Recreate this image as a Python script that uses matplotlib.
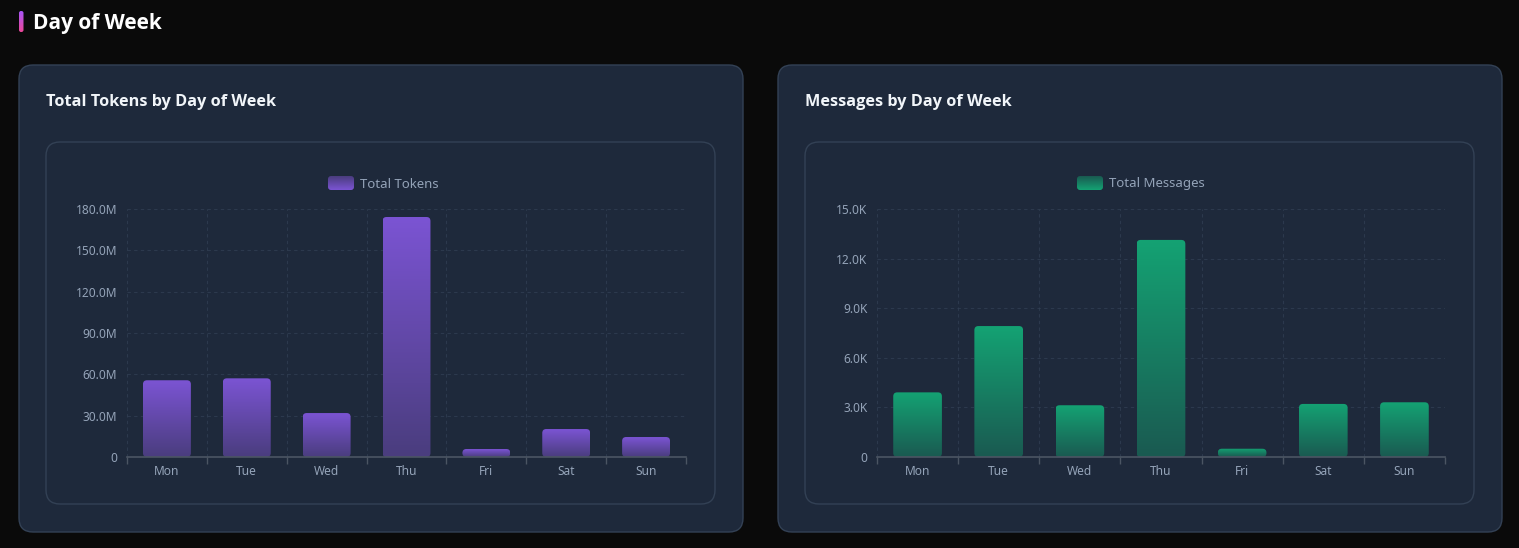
import matplotlib
matplotlib.use('Agg')
import matplotlib.pyplot as plt
import numpy as np
from matplotlib.patches import FancyBboxPatch
from matplotlib.colors import LinearSegmentedColormap
from matplotlib.ticker import FuncFormatter, MultipleLocator

plt.rcParams['font.family'] = ['Noto Sans', 'DejaVu Sans']
bold_font = ['Open Sans', 'DejaVu Sans']

# data
days = ['Mon', 'Tue', 'Wed', 'Thu', 'Fri', 'Sat', 'Sun']
tokens = [55.7e6, 57.1e6, 31.9e6, 174.2e6, 5.8e6, 20.3e6, 14.5e6]
messages = [3910, 7920, 3130, 13130, 500, 3210, 3310]

W, H = 1519, 548
fig = plt.figure(figsize=(W / 100, H / 100), dpi=100)
fig.patch.set_facecolor('#0a0a0a')

# background layer in pixel coordinates
bg = fig.add_axes([0, 0, 1, 1])
bg.set_xlim(0, W)
bg.set_ylim(H, 0)
bg.axis('off')
bg.set_zorder(0)

card_fill = '#1e293b'
card_edge = '#334155'
label_col = '#94a3b8'


def rbox(x0, y0, x1, y1, r, fc, ec, lw=1.0, z=1):
    p = FancyBboxPatch((x0, y0), x1 - x0, y1 - y0,
                       boxstyle=f'round,pad=0,rounding_size={r}',
                       fc=fc, ec=ec, lw=lw, zorder=z)
    bg.add_patch(p)
    return p


# heading with accent bar
accent = LinearSegmentedColormap.from_list('acc', ['#a855f7', '#ec4899'])
acc_patch = rbox(19, 11, 23.5, 32, 2, 'none', 'none', z=2)
bg.imshow(np.linspace(0, 1, 50).reshape(-1, 1), cmap=accent, aspect='auto',
          extent=[19, 23.5, 32, 11], clip_path=acc_patch, zorder=2)
bg.text(33, 23, 'Day of Week', color='white', fontsize=15, fontweight='bold',
        family=bold_font, ha='left', va='center')

purple = LinearSegmentedColormap.from_list('pur', ['#4a3d7e', '#7b54d3'])
green = LinearSegmentedColormap.from_list('grn', ['#1a5a51', '#14a273'])

panels = [
    dict(x0=19, x1=743, title='Total Tokens by Day of Week', vals=tokens,
         cmap=purple, legend='Total Tokens', ymax=180e6, step=30e6,
         fmt=lambda v, p: '0' if v == 0 else f'{v / 1e6:.1f}M',
         ax_l=127, ax_r=686, sw=328),
    dict(x0=778, x1=1502, title='Messages by Day of Week', vals=messages,
         cmap=green, legend='Total Messages', ymax=15e3, step=3e3,
         fmt=lambda v, p: '0' if v == 0 else f'{v / 1e3:.1f}K',
         ax_l=877, ax_r=1445, sw=1077),
]

ax_top, ax_bot = 209, 457

for pn in panels:
    x0, x1 = pn['x0'], pn['x1']
    rbox(x0, 65, x1, 532, 14, card_fill, card_edge, lw=1.0)
    rbox(x0 + 27, 142, x1 - 28, 504, 14, card_fill, card_edge, lw=1.0)
    bg.text(x0 + 27, 102, pn['title'], color='#f1f5f9', fontsize=11.7,
            fontweight='bold', family=bold_font, ha='left', va='center')

    # legend
    sw = pn['sw']
    sp = rbox(sw, 176, sw + 26, 190, 3, 'none', 'none', z=3)
    bg.imshow(np.linspace(0, 1, 50).reshape(-1, 1), cmap=pn['cmap'], aspect='auto',
              extent=[sw, sw + 26, 190, 176], clip_path=sp, zorder=3)
    bg.text(sw + 32, 184, pn['legend'], color=label_col, fontsize=9.5,
            ha='left', va='center')

    ax = fig.add_axes([pn['ax_l'] / W, 1 - ax_bot / H,
                       (pn['ax_r'] - pn['ax_l']) / W, (ax_bot - ax_top) / H])
    ax.set_zorder(1)
    ax.patch.set_alpha(0)
    x = np.arange(len(days))
    bars = ax.bar(x, pn['vals'], width=0.6)
    ax.set_xlim(-0.5, len(days) - 0.5)
    ax.set_ylim(0, pn['ymax'])

    # pixel -> data scale for rounded tops
    xpp = len(days) / (pn['ax_r'] - pn['ax_l'])
    ypp = pn['ymax'] / (ax_bot - ax_top)
    grad = np.linspace(0, 1, 100).reshape(-1, 1)
    for b in bars:
        b.set_visible(False)
        bx, bw, bh = b.get_x(), b.get_width(), b.get_height()
        clip = FancyBboxPatch((bx, 0), bw, bh,
                              boxstyle=f'round,pad=0,rounding_size={4 * xpp}',
                              mutation_aspect=ypp / xpp, fc='none', ec='none',
                              transform=ax.transData)
        ax.add_patch(clip)
        ax.imshow(grad, cmap=pn['cmap'], aspect='auto', origin='lower',
                  extent=[bx, bx + bw, 0, bh], clip_path=clip, zorder=2)
    ax.set_xlim(-0.5, len(days) - 0.5)
    ax.set_ylim(0, pn['ymax'])
    ax.set_aspect('auto')

    ax.yaxis.set_major_locator(MultipleLocator(pn['step']))
    ax.yaxis.set_major_formatter(FuncFormatter(pn['fmt']))
    ax.set_xticks(x)
    ax.set_xticklabels(days)
    ax.set_xticks(np.arange(-0.5, len(days)), minor=True)
    ax.tick_params(axis='x', which='major', length=0, pad=6, labelsize=8.6,
                   colors=label_col)
    ax.tick_params(axis='x', which='minor', length=5, width=1, color='#4b5563')
    ax.tick_params(axis='y', length=0, pad=7, labelsize=8.6, colors=label_col)
    ax.grid(True, which='major', axis='y', color='#334155', ls=(0, (3, 3)),
            lw=0.8, alpha=0.7)
    ax.grid(True, which='minor', axis='x', color='#334155', ls=(0, (3, 3)),
            lw=0.8, alpha=0.7)
    ax.set_axisbelow(True)
    for s in ['top', 'right', 'left']:
        ax.spines[s].set_visible(False)
    ax.spines['bottom'].set_color('#4b5563')
    ax.spines['bottom'].set_linewidth(1.2)

fig.savefig('out.png', dpi=100, facecolor=fig.get_facecolor())
